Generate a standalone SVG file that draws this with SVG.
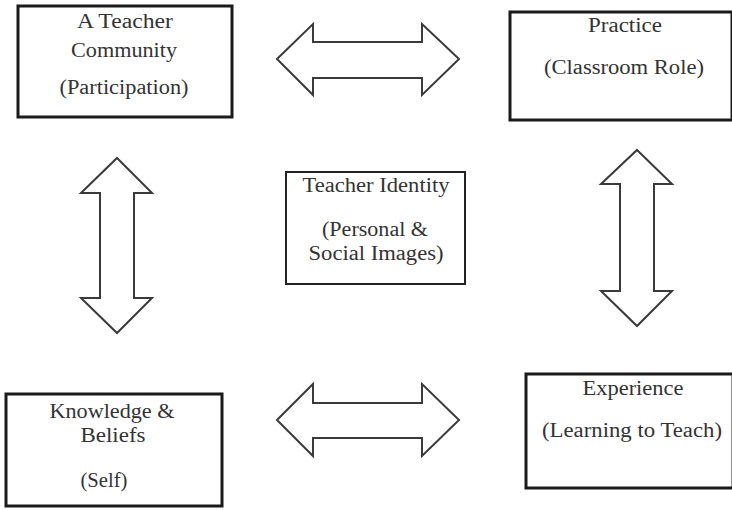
<svg xmlns="http://www.w3.org/2000/svg" width="732" height="510" viewBox="0 0 732 510">
<style>
.box{fill:#fff;stroke:#1a1a1a;stroke-width:3}
.arrow{fill:#fff;stroke:#3a3a3a;stroke-width:2;stroke-linejoin:miter}
text{font-family:"Liberation Serif","Times New Roman",serif;font-size:20px;fill:#333;text-anchor:middle}
</style>
<rect width="732" height="510" fill="#fff"/>
<g id="community">
<rect class="box" x="18" y="6" width="214" height="111"/>
<text x="125" y="28" textLength="96" lengthAdjust="spacingAndGlyphs">A Teacher</text>
<text x="124" y="57" textLength="106" lengthAdjust="spacingAndGlyphs">Community</text>
<text x="124" y="94" textLength="129" lengthAdjust="spacingAndGlyphs">(Participation)</text>
</g>
<g id="practice">
<rect class="box" x="510" y="12" width="222" height="108"/>
<text x="625" y="32" textLength="74" lengthAdjust="spacingAndGlyphs">Practice</text>
<text x="624" y="74" textLength="160" lengthAdjust="spacingAndGlyphs">(Classroom Role)</text>
</g>
<g id="identity">
<rect x="286" y="172" width="179" height="112" fill="#fff" stroke="#222" stroke-width="2"/>
<text x="376" y="192" textLength="147" lengthAdjust="spacingAndGlyphs">Teacher Identity</text>
<text x="375" y="236" textLength="106" lengthAdjust="spacingAndGlyphs">(Personal &amp;</text>
<text x="376" y="260" textLength="135" lengthAdjust="spacingAndGlyphs">Social Images)</text>
</g>
<g id="knowledge">
<rect class="box" x="6" y="394" width="216" height="112"/>
<text x="112" y="418" textLength="125" lengthAdjust="spacingAndGlyphs">Knowledge &amp;</text>
<text x="113" y="442" textLength="65" lengthAdjust="spacingAndGlyphs">Beliefs</text>
<text x="104" y="487" textLength="47" lengthAdjust="spacingAndGlyphs">(Self)</text>
</g>
<g id="experience">
<rect class="box" x="526" y="374" width="207" height="114"/>
<text x="633" y="395" textLength="101" lengthAdjust="spacingAndGlyphs">Experience</text>
<text x="632" y="437" textLength="180" lengthAdjust="spacingAndGlyphs">(Learning to Teach)</text>
</g>
<g id="connectors">
<polygon class="arrow" points="277,59 313,24 313,42 422,42 422,24 459,59 422,95 422,78 313,78 313,95"/>
<polygon class="arrow" points="277,420 313,384 313,403 422,403 422,384 459,420 422,456 422,438 313,438 313,456"/>
<polygon class="arrow" points="117,158 152,193 134,193 134,298 152,298 117,333 81,298 100,298 100,193 81,193"/>
<polygon class="arrow" points="637,150 672,184 654,184 654,291 672,291 637,326 601,291 620,291 620,184 601,184"/>
</g>
</svg>
